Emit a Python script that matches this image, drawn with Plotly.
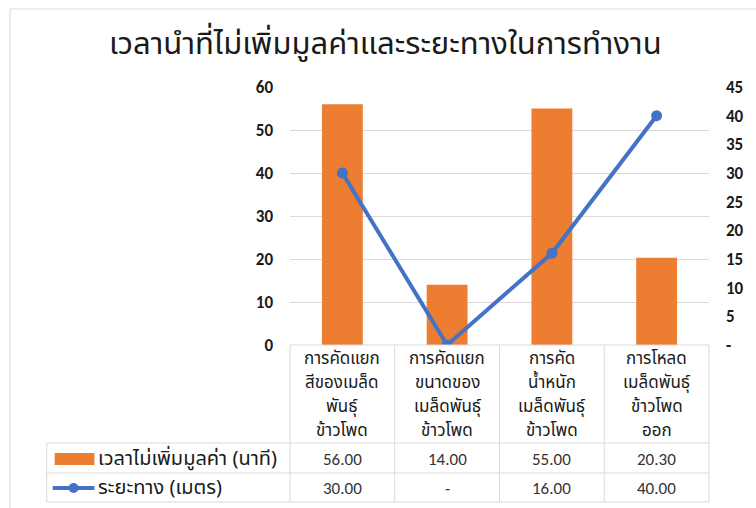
import plotly.graph_objects as go

title = "เวลานำที่ไม่เพิ่มมูลค่าและระยะทางในการทำงาน"
categories = [
    ["การคัดแยก", "สีของเมล็ด", "พันธุ์", "ข้าวโพด"],
    ["การคัดแยก", "ขนาดของ", "เมล็ดพันธุ์", "ข้าวโพด"],
    ["การคัด", "น้ำหนัก", "เมล็ดพันธุ์", "ข้าวโพด"],
    ["การโหลด", "เมล็ดพันธุ์", "ข้าวโพด", "ออก"],
]
bar_name = "เวลาไม่เพิ่มมูลค่า (นาที)"
line_name = "ระยะทาง (เมตร)"
time_values = [56.00, 14.00, 55.00, 20.30]
distance_values = [30.00, 0.00, 16.00, 40.00]
y1_ticks = [0, 10, 20, 30, 40, 50, 60]
y2_ticks = [0, 5, 10, 15, 20, 25, 30, 35, 40, 45]
y2_ticktext = ["-", "5", "10", "15", "20", "25", "30", "35", "40", "45"]

W, H = 756, 508
L, R, T, B = 290, 44, 87, 163
PW, PH = W - L - R, H - T - B
BOT = H - B


def px(x):
    return (x - L) / PW


def py(y):
    return (BOT - y) / PH


ORANGE = "#ED7D31"
BLUE = "#4472C4"
GRID = "#D9D9D9"
TXT = "#1a1a1a"
VAL = "#333333"
THAI = "Noto Sans Thai, Noto Sans Thai Looped, Tahoma, Leelawadee UI, sans-serif"
NUM = "Calibri, Carlito, Lato, sans-serif"

n = len(categories)
xs = list(range(n))

fig = go.Figure()
fig.add_trace(go.Bar(x=xs, y=time_values, name=bar_name,
                     marker=dict(color=ORANGE, line=dict(width=0)), yaxis="y"))
fig.add_trace(go.Scatter(x=xs, y=distance_values, name=line_name,
                         mode="lines+markers", yaxis="y2",
                         line=dict(color=BLUE, width=4),
                         marker=dict(color=BLUE, size=11)))

shapes = []
line = dict(color=GRID, width=1)
# chart border
shapes.append(dict(type="line", xref="paper", yref="paper", x0=px(8), x1=px(800), y0=py(9), y1=py(9), line=line))
shapes.append(dict(type="line", xref="paper", yref="paper", x0=px(8), x1=px(8), y0=py(9), y1=py(560), line=line))
# table
tab_left = px(45)
row_tops = [py(443), py(473), py(502)]
shapes.append(dict(type="line", xref="paper", yref="paper", x0=0, x1=1, y0=0, y1=0, line=line))
for yy in row_tops:
    shapes.append(dict(type="line", xref="paper", yref="paper", x0=tab_left, x1=1, y0=yy, y1=yy, line=line))
for i in range(n + 1):
    xx = i / n
    shapes.append(dict(type="line", xref="paper", yref="paper", x0=xx, x1=xx, y0=0, y1=row_tops[-1], line=line))
shapes.append(dict(type="line", xref="paper", yref="paper", x0=tab_left, x1=tab_left, y0=row_tops[0], y1=row_tops[-1], line=line))
# legend keys
shapes.append(dict(type="rect", xref="paper", yref="paper", x0=px(53), x1=px(93), y0=py(465), y1=py(453),
                   fillcolor=ORANGE, line=dict(width=0)))
shapes.append(dict(type="line", xref="paper", yref="paper", x0=px(51), x1=px(93), y0=py(488), y1=py(488),
                   line=dict(color=BLUE, width=4)))
shapes.append(dict(type="circle", xref="paper", yref="paper", x0=px(67), x1=px(77), y0=py(493), y1=py(483),
                   fillcolor=BLUE, line=dict(width=0)))

annotations = []
line_ys = [359, 383, 407, 431]
for i, c in enumerate(categories):
    for j, part in enumerate(c):
        annotations.append(dict(xref="paper", yref="paper", x=(i + 0.5) / n, y=py(line_ys[j]), text=part,
                                showarrow=False, xanchor="center", yanchor="middle", borderpad=0,
                                font=dict(family=THAI, size=17, color=TXT)))
    annotations.append(dict(xref="paper", yref="paper", x=(i + 0.5) / n, y=py(459),
                            text=f"{time_values[i]:.2f}", showarrow=False, xanchor="center", yanchor="middle",
                            font=dict(family=NUM, size=17, color=VAL)))
    dv = "-" if distance_values[i] == 0 else f"{distance_values[i]:.2f}"
    annotations.append(dict(xref="paper", yref="paper", x=(i + 0.5) / n, y=py(488),
                            text=dv, showarrow=False, xanchor="center", yanchor="middle",
                            font=dict(family=NUM, size=17, color=VAL)))
annotations.append(dict(xref="paper", yref="paper", x=px(95), y=py(459), text=bar_name, showarrow=False,
                        xanchor="left", yanchor="middle", font=dict(family=THAI, size=20, color=TXT)))
annotations.append(dict(xref="paper", yref="paper", x=px(95), y=py(488), text=line_name, showarrow=False,
                        xanchor="left", yanchor="middle", font=dict(family=THAI, size=20, color=TXT)))
annotations.append(dict(xref="paper", yref="paper", x=px(386), y=py(45), text=title, showarrow=False,
                        xanchor="center", yanchor="middle", font=dict(family=THAI, size=31, color=TXT)))

fig.update_layout(
    width=W, height=H,
    margin=dict(l=L, r=R, t=T, b=B, pad=0),
    paper_bgcolor="white", plot_bgcolor="white",
    showlegend=False,
    bargap=0.61,
    xaxis=dict(range=[-0.5, n - 0.5], showticklabels=False, showgrid=False, zeroline=False,
               showline=False, ticks=""),
    yaxis=dict(range=[0, 60], tickvals=y1_ticks, showgrid=True, gridcolor=GRID, gridwidth=1,
               zeroline=False, showline=False, ticks="", ticklabelstandoff=16,
               tickfont=dict(family=NUM, size=17, color=TXT, weight="bold")),
    yaxis2=dict(range=[0, 45], tickvals=y2_ticks, ticktext=y2_ticktext, overlaying="y", side="right",
                showgrid=False, zeroline=False, showline=False, ticks="", ticklabelstandoff=16,
                tickfont=dict(family=NUM, size=17, color=TXT, weight="bold")),
    shapes=shapes,
    annotations=annotations,
)

fig.write_html("out.html")
